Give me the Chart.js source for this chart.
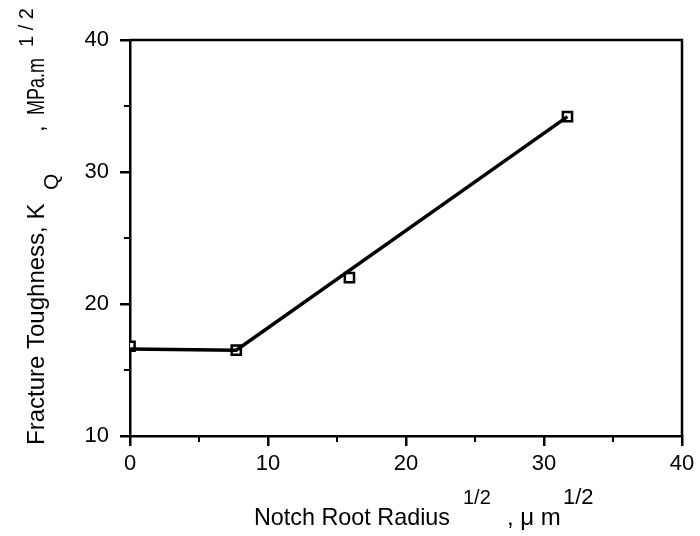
<!DOCTYPE html>
<html lang="en">
  <head>
    <meta charset="UTF-8" />
    <title>Fracture Toughness vs Notch Root Radius</title>
    <style>
      html, body { margin: 0; padding: 0; background: #fff; }
      .graphDiv { width: 700px; height: 536px; }
    </style>
  </head>
  <body>
    <div class="graphDiv">
      <canvas id="myChart" width="700" height="536"></canvas>
    </div>
    <script src="https://cdn.jsdelivr.net/npm/chart.js"></script>
    <script>
// measured points (square markers)
const rootRadius = [0, 7.7, 15.9, 31.7];
const toughness = [16.8, 16.5, 22.0, 34.2];

// drawn trend line
const fitRadius = [0, 7.7, 31.7];
const fitToughness = [16.6, 16.5, 34.2];

const xTicks = [0, 10, 20, 30, 40];
const yTicks = [10, 20, 30, 40];

const FONT = "'Liberation Sans', Arial, sans-serif";

// each piece: text, offset along the baseline, size, shift off the baseline, optional max width
function drawPieces(ctx, pieces) {
  pieces.forEach(p => {
    ctx.font = p.size + "px " + FONT;
    if (p.max) ctx.fillText(p.text, p.at, p.dy || 0, p.max);
    else ctx.fillText(p.text, p.at, p.dy || 0);
  });
}

const framePlugin = {
  id: "frame",
  afterDraw(chart) {
    const { ctx, chartArea } = chart;
    ctx.save();
    ctx.strokeStyle = "#000";
    ctx.lineWidth = 2.5;
    ctx.beginPath();
    ctx.moveTo(chartArea.left, chartArea.top);
    ctx.lineTo(chartArea.right, chartArea.top);
    ctx.lineTo(chartArea.right, chartArea.bottom);
    ctx.stroke();

    ctx.fillStyle = "#000";
    ctx.textBaseline = "alphabetic";
    ctx.textAlign = "left";

    // x title
    ctx.save();
    ctx.translate(0, 525);
    drawPieces(ctx, [
      { text: "Notch Root Radius", at: 254, size: 24, max: 196 },
      { text: "1/2", at: 463, size: 20, dy: -21 },
      { text: ", \u03bc m", at: 507, size: 24 },
      { text: "1/2", at: 563, size: 22, dy: -21 }
    ]);
    ctx.restore();

    // y title, rotated
    ctx.translate(44, 445);
    ctx.rotate(-Math.PI / 2);
    drawPieces(ctx, [
      { text: "Fracture Toughness, K", at: 0, size: 24, max: 245 },
      { text: "Q", at: 255, size: 21, dy: 14 },
      { text: ",", at: 313, size: 24 },
      { text: "MPa.m", at: 330, size: 24, max: 57 },
      { text: "1 / 2", at: 398, size: 20, dy: -11 }
    ]);
    ctx.restore();
  }
};

const tickFont = { family: FONT, size: 22 };

const ctx = document.getElementById("myChart").getContext("2d");
const myChart = new Chart(ctx, {
  type: "scatter",
  data: {
    datasets: [
      {
        label: "fit",
        data: fitRadius.map((x, i) => ({ x: x, y: fitToughness[i] })),
        showLine: true,
        borderColor: "#000",
        borderWidth: 3.5,
        pointRadius: 0,
        tension: 0
      },
      {
        label: "measured",
        data: rootRadius.map((x, i) => ({ x: x, y: toughness[i] })),
        showLine: false,
        pointStyle: "rect",
        pointRadius: 6.5,
        pointBorderWidth: 2.5,
        pointBorderColor: "#000",
        pointBackgroundColor: "#fff"
      }
    ]
  },
  options: {
    responsive: false,
    animation: false,
    layout: { padding: { left: 0, right: 18, top: 40, bottom: 0 } },
    plugins: {
      legend: { display: false },
      tooltip: { enabled: false }
    },
    scales: {
      x: {
        type: "linear",
        weight: 1,
        min: xTicks[0],
        max: xTicks[xTicks.length - 1],
        border: { color: "#000", width: 2.5 },
        grid: { drawOnChartArea: false, color: "#000", lineWidth: 2.5, tickLength: 10 },
        ticks: {
          stepSize: 10,
          color: "#000",
          font: tickFont,
          padding: 5,
          maxRotation: 0,
          callback: v => xTicks.includes(v) ? String(v) : ""
        },
        afterFit: s => { s.height = 100; }
      },
      xMinor: {
        type: "linear",
        position: "bottom",
        weight: 0,
        min: xTicks[0],
        max: xTicks[xTicks.length - 1],
        border: { display: false },
        grid: { drawOnChartArea: false, color: "#000", lineWidth: 2, tickLength: 6 },
        ticks: { stepSize: 5, display: false },
        afterFit: s => { s.height = 0; }
      },
      y: {
        type: "linear",
        weight: 1,
        min: yTicks[0],
        max: yTicks[yTicks.length - 1],
        border: { color: "#000", width: 2.5 },
        grid: { drawOnChartArea: false, color: "#000", lineWidth: 2.5, tickLength: 10 },
        ticks: {
          stepSize: 10,
          color: "#000",
          font: tickFont,
          padding: 11,
          callback: v => yTicks.includes(v) ? String(v) : ""
        },
        afterFit: s => { s.width = 130; }
      },
      yMinor: {
        type: "linear",
        position: "left",
        weight: 0,
        min: yTicks[0],
        max: yTicks[yTicks.length - 1],
        border: { display: false },
        grid: { drawOnChartArea: false, color: "#000", lineWidth: 2, tickLength: 6 },
        ticks: { stepSize: 5, display: false },
        afterFit: s => { s.width = 0; }
      }
    }
  },
  plugins: [framePlugin]
});
    </script>
  </body>
</html>
